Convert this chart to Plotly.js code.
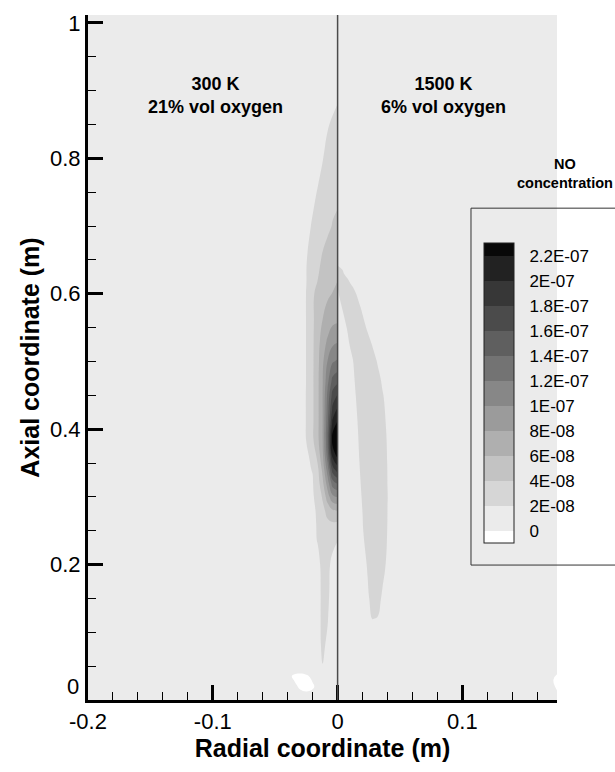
<!DOCTYPE html>
<html>
<head>
<meta charset="utf-8">
<script src="https://cdn.plot.ly/plotly-3.0.1.min.js"></script>
<style>html,body{margin:0;padding:0;background:#fff;}#chart{width:615px;height:772px;}</style>
</head>
<body>
<div id="chart"></div>
<script>
// NO concentration, in units of 1E-08
// Left half: 300 K, 21% vol oxygen
const xLeft = [-0.2, -0.1, -0.05, -0.04, -0.035, -0.03, -0.025, -0.02, -0.016, -0.012, -0.008, -0.004, 0];
const yLeft = [0, 0.02, 0.035, 0.05, 0.08, 0.12, 0.16, 0.2, 0.236, 0.26, 0.28, 0.3, 0.32, 0.34, 0.36, 0.385, 0.41, 0.43, 0.45, 0.47, 0.5, 0.53, 0.56, 0.6, 0.65, 0.7, 0.75, 0.8, 0.86, 0.92, 1.012];
const zLeft = [
  [0.8,1.0,1.0,0.9,0.8,0.7,0.7,0.8,1.0,1.1,1.1,1.1,1.1],
  [0.8,1.0,1.0,0.7,0.3,-0.2,-0.4,-0.2,0.4,1.2,1.3,1.2,1.2],
  [0.8,1.0,0.9,0.4,-0.2,-0.4,-0.2,0.3,0.8,1.5,1.5,1.3,1.2],
  [0.8,1.0,1.1,1.1,1.0,1.1,1.2,1.3,1.6,1.98,1.7,1.4,1.3],
  [0.8,1.0,1.2,1.3,1.3,1.4,1.45,1.5,1.7,2.15,1.85,1.4,1.3],
  [0.8,1.0,1.2,1.3,1.35,1.45,1.5,1.55,1.7,2.2,2.05,1.5,1.3],
  [0.8,1.0,1.2,1.3,1.4,1.5,1.55,1.6,1.7,2.2,2.2,1.6,1.4],
  [0.8,1.0,1.2,1.3,1.4,1.5,1.55,1.6,1.7,2.3,2.3,1.7,1.5],
  [0.8,1.0,1.2,1.3,1.4,1.5,1.6,1.75,2.05,2.6,2.7,2.3,2.02],
  [0.8,1.0,1.2,1.3,1.4,1.5,1.6,1.75,2.1,2.9,3.5,3.7,3.6],
  [0.8,1.0,1.2,1.3,1.4,1.5,1.6,1.8,2.15,3.3,4.8,5.8,6.1],
  [0.8,1.0,1.2,1.3,1.45,1.55,1.7,1.9,2.3,4.3,7.0,9.5,10.1],
  [0.8,1.0,1.2,1.35,1.5,1.6,1.75,1.9,3.1,5.5,9.0,13.0,14.2],
  [0.8,1.0,1.2,1.35,1.5,1.65,1.8,2.05,3.5,6.5,11.0,17.0,19.0],
  [0.8,1.0,1.3,1.45,1.6,1.75,1.8,2.3,4.6,7.5,13.0,20.5,22.5],
  [0.8,1.0,1.3,1.5,1.65,1.8,2.02,3.7,5.5,8.0,14.0,23.0,25.0],
  [0.8,1.0,1.3,1.5,1.65,1.8,2.02,3.7,5.5,8.0,13.5,20.5,22.3],
  [0.8,1.0,1.3,1.5,1.65,1.8,2.02,3.7,5.5,8.0,13.0,18.5,20.2],
  [0.8,1.0,1.3,1.5,1.65,1.8,2.02,3.7,5.5,8.0,12.5,16.8,18.2],
  [0.8,1.0,1.2,1.35,1.5,1.7,2.02,3.7,5.5,7.9,11.5,14.8,15.7],
  [0.8,1.0,1.2,1.35,1.5,1.7,2.02,3.7,5.4,7.6,10.1,11.8,12.3],
  [0.8,1.0,1.2,1.35,1.5,1.7,2.02,3.7,5.2,7.0,8.3,9.4,9.8],
  [0.8,1.0,1.2,1.35,1.5,1.7,2.02,3.7,4.9,6.05,6.9,7.6,7.8],
  [0.8,1.0,1.2,1.35,1.5,1.7,2.02,3.8,4.4,5.2,5.7,6.05,6.3],
  [0.8,1.0,1.2,1.35,1.5,1.7,1.95,2.6,3.4,4.3,4.9,5.3,5.5],
  [0.8,1.0,1.2,1.3,1.4,1.55,1.75,2.1,2.6,3.1,3.6,4.1,4.3],
  [0.8,1.0,1.2,1.3,1.4,1.5,1.6,1.8,2.05,2.6,3.1,3.5,3.7],
  [0.8,1.0,1.2,1.3,1.3,1.4,1.5,1.6,1.7,1.95,2.3,2.6,2.7],
  [0.8,1.0,1.2,1.2,1.3,1.3,1.4,1.5,1.6,1.7,1.85,2.02,2.1],
  [0.8,1.0,1.1,1.2,1.2,1.3,1.3,1.4,1.5,1.6,1.7,1.75,1.8],
  [0.8,1.0,1.1,1.1,1.1,1.2,1.2,1.2,1.3,1.3,1.4,1.4,1.4]
];

// Right half: 1500 K, 6% vol oxygen
const xRight = [0, 0.004, 0.008, 0.012, 0.016, 0.02, 0.024, 0.028, 0.032, 0.036, 0.04, 0.044, 0.06, 0.1, 0.15, 0.168, 0.176];
const yRight = [0, 0.015, 0.03, 0.045, 0.08, 0.1, 0.12, 0.15, 0.2, 0.25, 0.3, 0.35, 0.4, 0.45, 0.475, 0.5, 0.525, 0.55, 0.575, 0.6, 0.615, 0.63, 0.66, 0.7, 0.8, 1.012];
const zRight = [
  [1.0,1.0,1.0,1.0,1.0,1.0,1.0,1.0,1.0,1.0,1.0,1.0,1.0,1.0,0.9,0.9,0.8],
  [1.0,1.0,1.0,1.0,1.0,1.0,1.0,1.0,1.0,1.0,1.0,1.0,1.0,1.0,0.9,0.8,-0.1],
  [1.0,1.0,1.0,1.0,1.0,1.0,1.0,1.0,1.0,1.0,1.0,1.0,1.0,1.0,0.9,0.8,-0.5],
  [1.0,1.0,1.0,1.0,1.0,1.0,1.0,1.0,1.0,1.0,1.0,1.0,1.0,1.0,0.9,0.9,0.4],
  [1.0,1.0,1.0,1.0,1.05,1.1,1.3,1.5,1.5,1.3,1.15,1.1,1.05,1.0,0.9,0.9,0.9],
  [1.0,1.0,1.0,1.05,1.1,1.2,1.45,1.7,1.65,1.4,1.2,1.1,1.05,1.0,0.9,0.9,0.9],
  [1.0,1.0,1.0,1.05,1.15,1.3,1.6,2.02,1.95,1.6,1.3,1.15,1.05,1.0,0.9,0.9,0.9],
  [1.0,1.0,1.05,1.1,1.2,1.35,1.8,2.4,2.45,1.8,1.4,1.2,1.1,1.0,0.9,0.9,0.9],
  [1.0,1.0,1.05,1.1,1.2,1.55,2.1,2.75,2.9,2.4,1.75,1.35,1.1,1.0,0.9,0.9,0.9],
  [1.0,1.05,1.1,1.2,1.4,1.9,2.6,3.0,3.0,2.7,1.95,1.45,1.1,1.0,0.9,0.9,0.9],
  [1.0,1.05,1.1,1.3,1.6,2.1,2.8,3.0,3.0,2.8,2.02,1.5,1.1,1.0,0.9,0.9,0.9],
  [1.0,1.05,1.15,1.35,1.75,2.4,2.9,3.0,3.0,2.7,1.95,1.45,1.1,1.0,0.9,0.9,0.9],
  [1.0,1.05,1.2,1.5,1.95,2.6,3.0,3.0,3.0,2.5,1.8,1.4,1.1,1.0,0.9,0.9,0.9],
  [1.0,1.1,1.3,1.65,2.2,2.9,3.0,3.0,2.9,2.1,1.55,1.3,1.1,1.0,0.9,0.9,0.9],
  [1.0,1.15,1.35,1.75,2.4,3.0,3.0,3.0,2.4,1.75,1.4,1.2,1.1,1.0,0.9,0.9,0.9],
  [1.05,1.2,1.45,1.9,2.7,3.0,3.0,2.6,1.9,1.5,1.3,1.2,1.1,1.0,0.9,0.9,0.9],
  [1.1,1.3,1.75,2.4,3.0,3.0,2.6,1.9,1.5,1.3,1.2,1.2,1.1,1.0,0.9,0.9,0.9],
  [1.2,1.55,2.1,2.9,3.0,2.5,1.8,1.45,1.3,1.2,1.2,1.2,1.1,1.0,0.9,0.9,0.9],
  [1.5,1.98,2.8,3.0,2.6,1.85,1.5,1.3,1.3,1.2,1.2,1.2,1.1,1.0,0.9,0.9,0.9],
  [1.85,2.5,2.9,2.5,1.8,1.45,1.3,1.3,1.3,1.2,1.2,1.2,1.1,1.0,0.9,0.9,0.9],
  [2.05,2.6,2.3,1.8,1.5,1.35,1.3,1.3,1.3,1.2,1.2,1.2,1.1,1.0,0.9,0.9,0.9],
  [2.3,2.1,1.7,1.45,1.35,1.3,1.3,1.3,1.3,1.2,1.2,1.2,1.1,1.0,0.9,0.9,0.9],
  [1.5,1.5,1.45,1.4,1.35,1.3,1.3,1.3,1.3,1.2,1.2,1.2,1.1,1.0,0.9,0.9,0.9],
  [1.45,1.45,1.4,1.4,1.35,1.3,1.3,1.3,1.3,1.2,1.2,1.2,1.1,1.0,0.9,0.9,0.9],
  [1.4,1.4,1.4,1.3,1.3,1.3,1.3,1.2,1.2,1.2,1.2,1.1,1.1,1.0,0.9,0.9,0.9],
  [1.2,1.2,1.2,1.2,1.2,1.2,1.2,1.2,1.1,1.1,1.1,1.1,1.0,1.0,0.9,0.9,0.9]
];

// contour levels (units of 1E-08) and their legend labels
const levelVals = [0, 2, 4, 6, 8, 10, 12, 14, 16, 18, 20, 22];
const levelLabels = ["0", "2E-08", "4E-08", "6E-08", "8E-08", "1E-07", "1.2E-07", "1.4E-07", "1.6E-07", "1.8E-07", "2E-07", "2.2E-07"];
const bandGrays = ["#ffffff", "#ebebeb", "#d6d6d6", "#c3c3c3", "#afafaf", "#9b9b9b", "#878787", "#737373", "#5f5f5f", "#4b4b4b", "#373737", "#222222", "#080808"];

// axis ticks (the y label "0" is drawn raised, as in the reference)
const xTickVals = [-0.2, -0.1, 0, 0.1];
const xTickText = ["-0.2", "-0.1", "0", "0.1"];
const yTickVals = [0.2, 0.4, 0.6, 0.8, 1];
const yTickText = ["0.2", "0.4", "0.6", "0.8", "1"];
const yZeroLabel = "0";

const FONT = "Liberation Sans, Arial, Helvetica, sans-serif";
const colorscale = bandGrays.map((c, i) => [i / (bandGrays.length - 1), c]);
const contours = {start: levelVals[0], end: levelVals[levelVals.length - 1], size: levelVals[1] - levelVals[0], coloring: 'fill', showlines: false};

const traceLeft = {
  type: 'contour', x: xLeft, y: yLeft, z: zLeft,
  autocontour: false, contours: contours, colorscale: colorscale,
  line: {width: 0, smoothing: 1.3}, showscale: false, hoverinfo: 'skip'
};
const traceRight = {
  type: 'contour', x: xRight, y: yRight, z: zRight,
  autocontour: false, contours: contours, colorscale: colorscale,
  line: {width: 0, smoothing: 1.3}, hoverinfo: 'skip',
  showscale: true,
  colorbar: {
    x: 0.844, xanchor: 'left', xpad: 0, y: 0.448, yanchor: 'middle', ypad: 0,
    len: 300, lenmode: 'pixels', thickness: 30, thicknessmode: 'pixels',
    outlinewidth: 1, outlinecolor: '#222', borderwidth: 0, bgcolor: 'rgba(0,0,0,0)',
    tickmode: 'array', tickvals: levelVals, ticktext: levelLabels,
    ticks: 'outside', ticklen: 12, tickcolor: 'rgba(0,0,0,0)',
    tickfont: {family: FONT, size: 17, color: '#000'}
  }
};

const layout = {
  width: 615, height: 772, autosize: false,
  margin: {l: 88, r: 58, t: 15, b: 72, pad: 0},
  paper_bgcolor: '#ffffff', plot_bgcolor: '#ffffff',
  font: {family: FONT, color: '#000'},
  showlegend: false,
  xaxis: {
    range: [-0.2, 0.1758], showgrid: false, zeroline: false,
    showline: true, linewidth: 3, linecolor: '#000', mirror: false,
    tickmode: 'array', tickvals: xTickVals, ticktext: xTickText,
    ticks: 'inside', ticklen: 15, tickwidth: 3, tickcolor: '#000',
    minor: {tickmode: 'linear', tick0: -0.2, dtick: 0.02, ticks: 'inside', ticklen: 8, tickwidth: 1, tickcolor: '#000', showgrid: false},
    tickfont: {family: FONT, size: 22, color: '#000'},
    automargin: false,
    title: {text: '<b>Radial coordinate (m)</b>', font: {family: FONT, size: 25, color: '#000'}, standoff: 6}
  },
  yaxis: {
    range: [0, 1.0118], showgrid: false, zeroline: false,
    showline: true, linewidth: 3, linecolor: '#000', mirror: false,
    tickmode: 'array', tickvals: yTickVals, ticktext: yTickText,
    ticks: 'inside', ticklen: 15, tickwidth: 3, tickcolor: '#000',
    minor: {tickmode: 'linear', tick0: 0, dtick: 0.05, ticks: 'inside', ticklen: 8, tickwidth: 1, tickcolor: '#000', showgrid: false},
    tickfont: {family: FONT, size: 22, color: '#000'},
    automargin: false,
    title: {text: '<b>Axial coordinate (m)</b>', font: {family: FONT, size: 25, color: '#000'}, standoff: 4}
  },
  shapes: [
    {type: 'line', xref: 'x', yref: 'paper', x0: 0, x1: 0, y0: 0, y1: 1, line: {color: '#4a4a4a', width: 1.5}},
    {type: 'rect', xref: 'paper', yref: 'paper', x0: 0.8166, x1: 1.16, y0: 0.197, y1: 0.718, line: {color: '#333', width: 1}, fillcolor: 'rgba(0,0,0,0)'}
  ],
  annotations: [
    {xref: 'x', yref: 'y', x: -0.098, y: 0.8925, text: '<b>300 K<br>21% vol oxygen</b>', showarrow: false, font: {family: FONT, size: 18, color: '#000'}, xanchor: 'center', yanchor: 'middle'},
    {xref: 'x', yref: 'y', x: 0.085, y: 0.8925, text: '<b>1500 K<br>6% vol oxygen</b>', showarrow: false, font: {family: FONT, size: 18, color: '#000'}, xanchor: 'center', yanchor: 'middle'},
    {xref: 'paper', yref: 'paper', x: 1.017, y: 0.769, text: '<b>NO<br>concentration</b>', showarrow: false, font: {family: FONT, size: 14.5, color: '#000'}, xanchor: 'center', yanchor: 'middle'},
    {xref: 'paper', yref: 'paper', x: -0.017, y: 0.0, text: yZeroLabel, showarrow: false, font: {family: FONT, size: 22, color: '#000'}, xanchor: 'right', yanchor: 'bottom', borderpad: 0}
  ]
};

Plotly.newPlot('chart', [traceLeft, traceRight], layout, {staticPlot: true, displayModeBar: false});
</script>
</body>
</html>
